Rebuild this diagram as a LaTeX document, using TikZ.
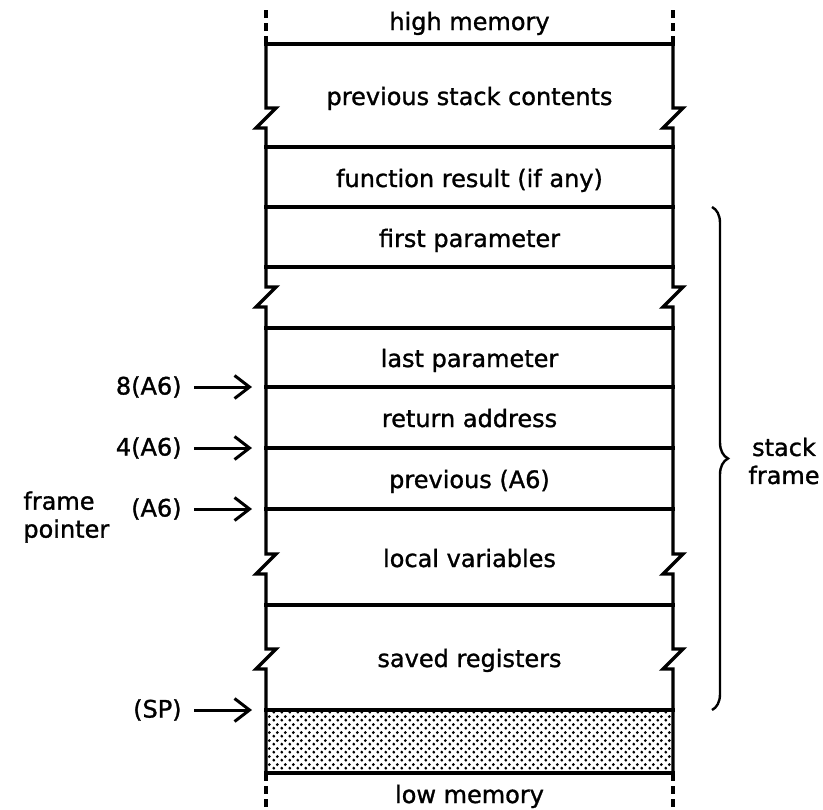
\documentclass[tikz,border=0pt]{standalone}
\usepackage{fontspec}
\setmainfont{DejaVu Sans}[FakeBold=1.2]
\usetikzlibrary{arrows.meta, patterns, decorations.pathreplacing}

% dotted fill for the free stack area
\pgfdeclarepatternformonly{stackdots}{\pgfpointorigin}{\pgfqpoint{4pt}{4pt}}{\pgfqpoint{4pt}{4pt}}{%
  \pgfpathcircle{\pgfqpoint{1pt}{1pt}}{0.85pt}%
  \pgfpathcircle{\pgfqpoint{3pt}{3pt}}{0.85pt}%
  \pgfusepath{fill}}

\tikzset{
  wall/.style={line width=1.7pt, line cap=rect},
  openend/.style={line width=1.7pt, dash pattern=on 4pt off 2.5pt},
  cell/.style={anchor=base},
  ptrlabel/.style={anchor=east, inner sep=6pt},
  ptr/.style={-{Straight Barb[length=7.5pt, width=11.5pt]}, line width=1.5pt},
  framebrace/.style={decorate, decoration={brace, amplitude=8pt}, line width=1.2pt},
}

\begin{document}
\begin{tikzpicture}[x=0.5pt, y=-0.5pt, font=\fontsize{12pt}{14pt}\selectfont]
  \useasboundingbox (0,0) rectangle (823,809);

  % Free space below (SP)
  \fill [pattern=stackdots] (266,710) rectangle (673,773);

  % Walls of the stack, broken where it goes on
  \foreach \ex in {266,673}
    \draw [wall] (\ex,44)
      \foreach \zy in {108,287,554,649} { -- (\ex,\zy) -- ++(10,0) -- ++(-20,20) -- ++(10,0) }
      -- (\ex,773);

  % Open ends above and below
  \foreach \ex in {266,673} {
    \draw [openend] (\ex,44) -- (\ex,8);
    \draw [openend] (\ex,773) -- (\ex,809);
  }

  % Cell boundaries
  \foreach \hy in {44,147,207,267,328,387,448,509,605,710,773}
    \draw [wall] (266,\hy) -- (673,\hy);

  % Cell texts
  \node [cell] (high)   at (469.5,30)  {high memory};
  \node [cell] (prev)   at (469.5,105) {previous stack contents};
  \node [cell] (result) at (469.5,187) {function result (if any)};
  \node [cell] (first)  at (469.5,247) {first parameter};
  \node [cell] (last)   at (469.5,367) {last parameter};
  \node [cell] (ret)    at (469.5,427) {return address};
  \node [cell] (oldfp)  at (469.5,488) {previous (A6)};
  \node [cell] (locals) at (469.5,567) {local variables};
  \node [cell] (saved)  at (469.5,667) {saved registers};
  \node [cell] (low)    at (469.5,803) {low memory};

  % Pointers into the frame
  \node [ptrlabel] (off8) at (194,387) {8(A6)};
  \node [ptrlabel] (off4) at (194,448) {4(A6)};
  \node [ptrlabel] (fp)   at (194,509) {(A6)};
  \node [ptrlabel] (sp)   at (194,710) {(SP)};
  \coordinate (to8)  at (252,387);
  \coordinate (to4)  at (252,448);
  \coordinate (tofp) at (252,509);
  \coordinate (tosp) at (252,710);
  \draw [ptr] (off8) -- (to8);
  \draw [ptr] (off4) -- (to4);
  \draw [ptr] (fp) -- (tofp);
  \draw [ptr] (sp) -- (tosp);

  \node [anchor=west, align=left, inner sep=0pt] (fplabel) at (23,517) {frame\\pointer};

  % Stack frame brace
  \draw [framebrace] (712,207) -- (712,710);
  \node [align=center, inner sep=0pt] (framelabel) at (784,461) {stack\\frame};
\end{tikzpicture}
\end{document}
